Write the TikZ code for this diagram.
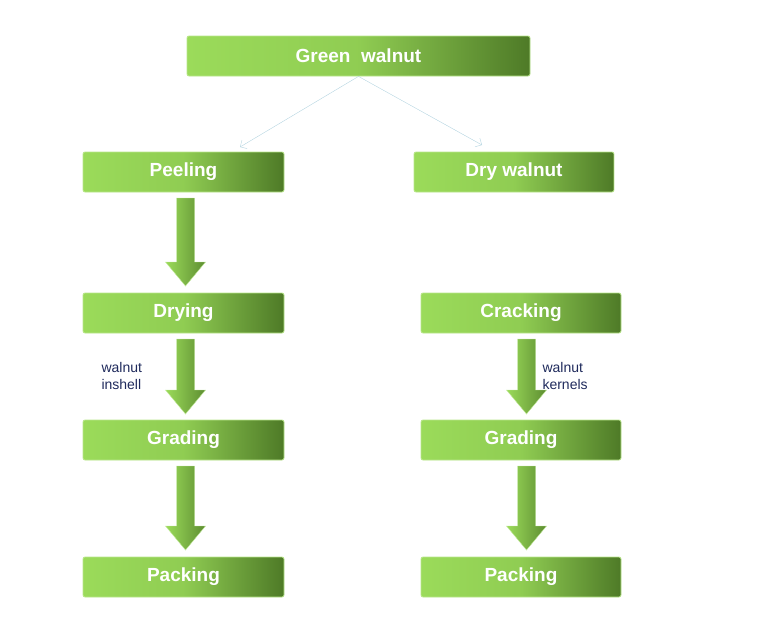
\documentclass[tikz,border=0pt]{standalone}
\usepackage{fontspec}
\setmainfont{Liberation Sans}
\usetikzlibrary{arrows.meta}
\definecolor{gl}{HTML}{9BDB5A}
\definecolor{gd}{HTML}{4E7A27}
\definecolor{ln}{HTML}{B4D4E0}
\definecolor{tx}{HTML}{1F2A5C}
\begin{document}
\begin{tikzpicture}[x=1pt,y=-1pt,
 box/.style={draw=gl!70!white,line width=0.8pt,rounded corners=2pt,left color=gl,right color=gd,middle color=gl!85!gd,
   minimum height=40pt,inner sep=0pt,text=white,font=\bfseries\fontsize{19}{22}\selectfont},
 lbl/.style={text=tx,font=\fontsize{14}{17}\selectfont,align=left,anchor=west}]
\useasboundingbox (0,0) rectangle (763,619);
\newcommand\barrow[3]{% x, ytop, ybot
 \path[draw=gl!60!white,left color=gl,right color=gd!80!gl]
  (#1-9,#2) -- (#1+9,#2) -- (#1+9,#3-24) -- (#1+20,#3-24) -- (#1,#3) -- (#1-20,#3-24) -- (#1-9,#3-24) -- cycle;}
\node[box,minimum width=343pt] (gw) at (358.5,56) {Green\ \ walnut};
\node[box,minimum width=201pt] (pe) at (183.5,172) {Peeling};
\node[box,minimum width=200pt] (dw) at (514,172) {Dry walnut};
\node[box,minimum width=201pt] (dr) at (183.5,313) {Drying};
\node[box,minimum width=200pt] (cr) at (521,313) {Cracking};
\node[box,minimum width=201pt] (g1) at (183.5,440) {Grading};
\node[box,minimum width=200pt] (g2) at (521,440) {Grading};
\node[box,minimum width=201pt] (p1) at (183.5,577) {Packing};
\node[box,minimum width=200pt] (p2) at (521,577) {Packing};
\draw[ln,-{Straight Barb[length=5pt]}] (gw.south) -- (240,147);
\draw[ln,-{Straight Barb[length=5pt]}] (gw.south) -- (482,145);
\barrow{185.5}{198}{286}
\barrow{185.5}{339}{414}
\barrow{185.5}{466}{550}
\barrow{526.5}{339}{414}
\barrow{526.5}{466}{550}
\node[lbl] (l1) at (98,376) {walnut\\inshell};
\node[lbl] (l2) at (539,376) {walnut\\kernels};
\end{tikzpicture}
\end{document}
